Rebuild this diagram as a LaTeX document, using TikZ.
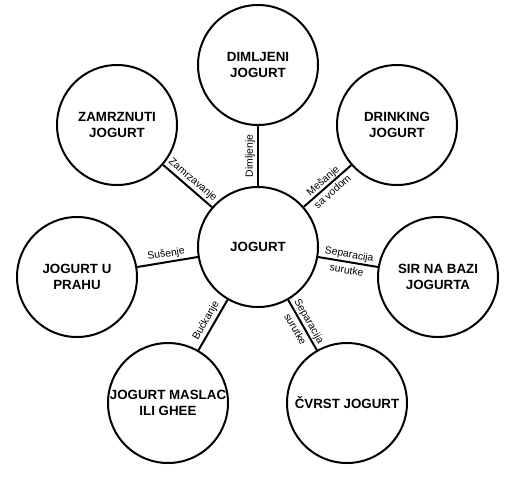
\documentclass[tikz,border=0pt]{standalone}
\usepackage{fontspec}
\setmainfont{Liberation Sans}
\usetikzlibrary{positioning}
\tikzset{
  % product circles around the centre
  prod/.style = {circle, draw, line width=1.5pt, minimum size=90pt, inner sep=0pt,
                 align=center, font=\fontsize{10}{12}\selectfont\bfseries},
  link/.style = {line width=1.5pt},
  proc/.style = {font=\fontsize{7.8}{9}\selectfont, sloped, align=center, inner sep=1.5pt},
}

\begin{document}
\begin{tikzpicture}[x=0.75pt, y=-0.75pt]
\useasboundingbox (0,0) rectangle (521,480);
\node[prod] (jog)    at (258,247) {JOGURT};
\node[prod] (dim)    at (258,65)  {DIMLJENI\\JOGURT};
\node[prod] (zam)    at (117,125) {ZAMRZNUTI\\JOGURT};
\node[prod] (drink)  at (397,125) {DRINKING\\JOGURT};
\node[prod] (prah)   at (77,277)  {JOGURT U\\PRAHU};
\node[prod] (sir)    at (438,277) {SIR NA BAZI\\JOGURTA};
\node[prod] (maslac) at (168,403) {JOGURT MASLAC\\ILI GHEE};
\node[prod] (cvrst)  at (347,403) {ČVRST JOGURT};
\draw[link] (jog) -- node[proc, above] {Dimljenje} (dim);
\draw[link] (zam) -- node[proc, above] {Zamrzavanje} (jog);
\draw[link] (jog) -- node[proc] {Mešanje\\[2pt]sa vodom} (drink);
\draw[link] (prah) -- node[proc, above] {Sušenje} (jog);
\draw[link] (jog) -- node[proc] {Separacija\\[3pt]surutke} (sir);
\draw[link] (maslac) -- node[proc, above] {Bućkanje} (jog);
\draw[link] (jog) -- node[proc] {Separacija\\[3pt]surutke} (cvrst);
\end{tikzpicture}
\end{document}
